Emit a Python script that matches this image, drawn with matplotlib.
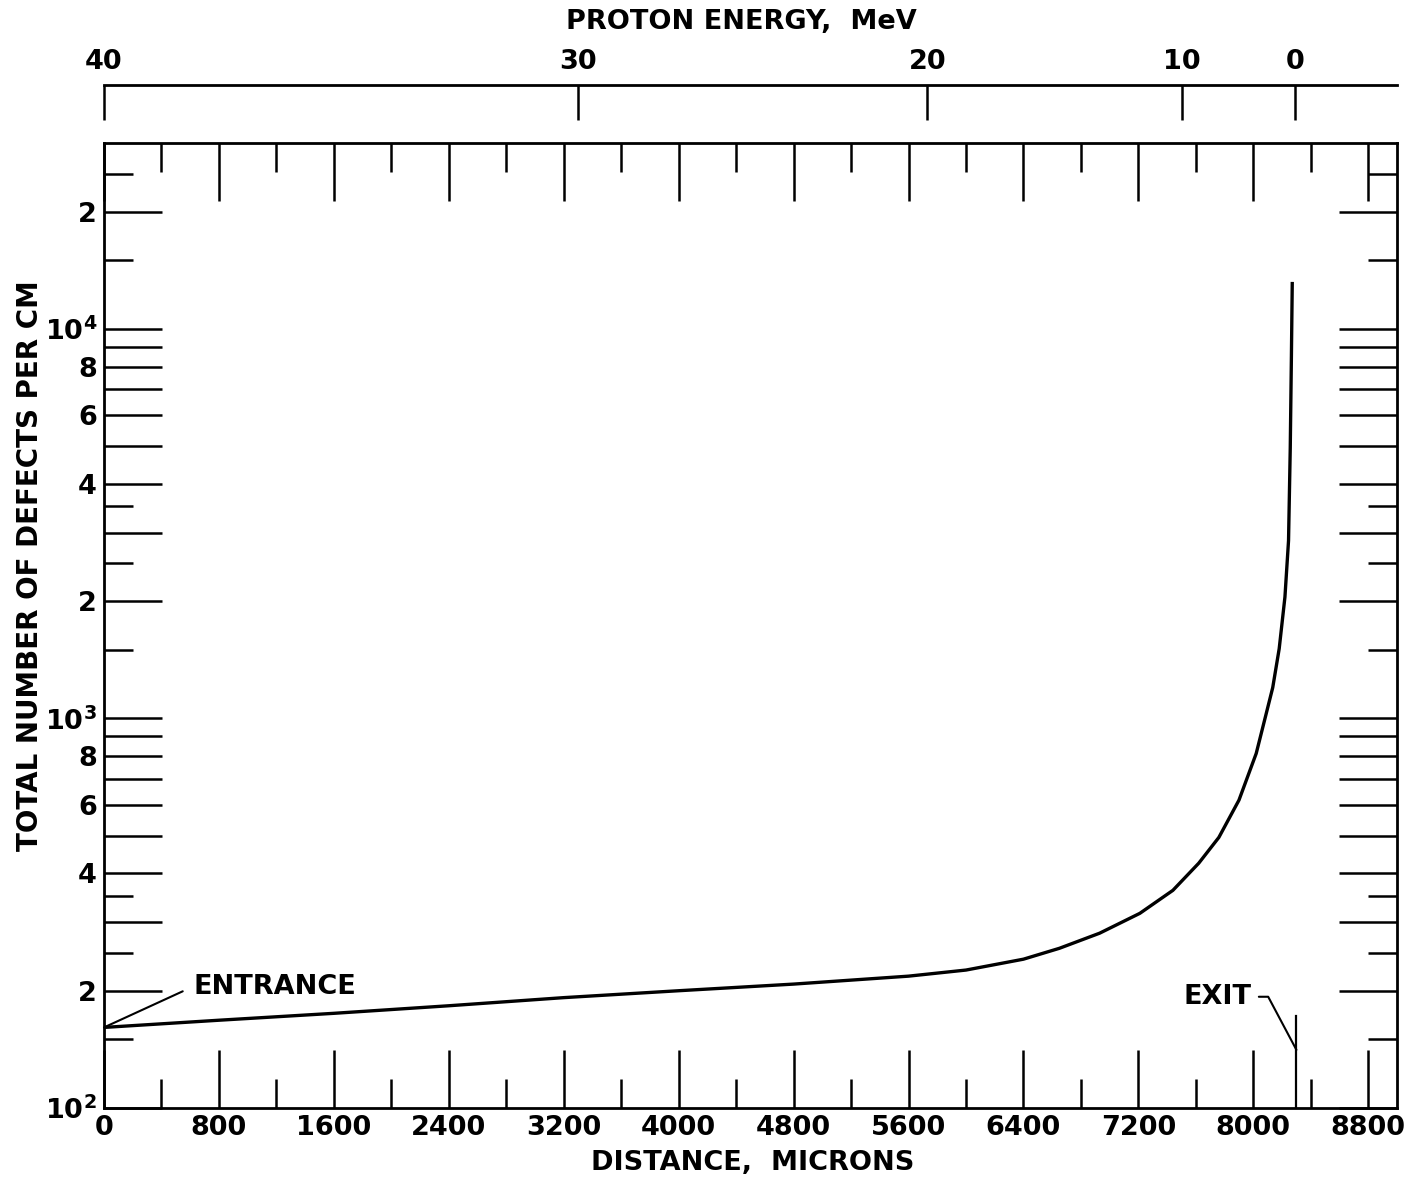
import matplotlib
matplotlib.use("Agg")
import matplotlib.pyplot as plt
from matplotlib.ticker import FixedLocator, FixedFormatter, NullFormatter

plt.rcParams['font.family'] = ['DejaVu Sans']
plt.rcParams['font.weight'] = 'bold'
plt.rcParams['mathtext.fontset'] = 'dejavusans'
plt.rcParams['mathtext.default'] = 'bf'

# ---------------- data ----------------
distance_um = [0, 800, 1600, 2400, 3200, 4000, 4800, 5600, 6000, 6400, 6650,
               6930, 7210, 7440, 7620, 7760, 7900, 8020, 8090, 8135, 8180,
               8220, 8245, 8257, 8265, 8271]
defects_per_cm = [161, 168, 175, 183, 192, 200, 208, 218, 226, 241, 257,
                  281, 316, 362, 425, 495, 617, 813, 1030, 1200, 1510,
                  2050, 2860, 4950, 8500, 13200]

exit_distance = 8300
exit_marker_top = 172

x_major_ticks = [0, 800, 1600, 2400, 3200, 4000, 4800, 5600, 6400, 7200, 8000, 8800]
x_minor_ticks = [400, 1200, 2000, 2800, 3600, 4400, 5200, 6000, 6800, 7600, 8400]

y_major_ticks = [100, 200, 300, 400, 500, 600, 700, 800, 900,
                 1000, 2000, 3000, 4000, 5000, 6000, 7000, 8000, 9000,
                 10000, 20000]
y_major_labels = [r'$10^{2}$', '2', '', '4', '', '6', '', '8', '',
                  r'$10^{3}$', '2', '', '4', '', '6', '', '8', '',
                  r'$10^{4}$', '2']
y_minor_ticks = [150, 250, 350, 1500, 2500, 3500, 15000, 25000]

energy_labels = ['40', '30', '20', '10', '0']
energy_tick_distance = [0, 3300, 5730, 7505, 8290]

x_limits = (0, 9000)
y_limits = (100, 30000)

# ---------------- figure ----------------
W, H = 1414, 1183
fig = plt.figure(figsize=(W / 100, H / 100), dpi=100)

left, right, top, bottom = 104, 1397, 143, 1108
ax = fig.add_axes([left / W, 1 - bottom / H, (right - left) / W, (bottom - top) / H])

ax.plot(distance_um, defects_per_cm, color='black', lw=2.4,
        solid_joinstyle='round', solid_capstyle='butt')
ax.plot([exit_distance, exit_distance], [y_limits[0], exit_marker_top],
        color='black', lw=1.6)

ax.set_yscale('log')
ax.set_xlim(*x_limits)
ax.set_ylim(*y_limits)

ax.xaxis.set_major_locator(FixedLocator(x_major_ticks))
ax.xaxis.set_minor_locator(FixedLocator(x_minor_ticks))
ax.xaxis.set_major_formatter(FixedFormatter([str(v) for v in x_major_ticks]))
ax.xaxis.set_minor_formatter(NullFormatter())

ax.yaxis.set_major_locator(FixedLocator(y_major_ticks))
ax.yaxis.set_major_formatter(FixedFormatter(y_major_labels))
ax.yaxis.set_minor_locator(FixedLocator(y_minor_ticks))
ax.yaxis.set_minor_formatter(NullFormatter())

for s in ax.spines.values():
    s.set_linewidth(2.0)

fs = 19.5
ax.tick_params(which='both', direction='in', top=True, right=True,
               width=1.8, color='black')
ax.tick_params(which='major', length=42, labelsize=fs, pad=5)
ax.tick_params(which='minor', length=21)
ax.tick_params(axis='y', which='major', pad=5)

fig.text(753 / W, 1 - 1163 / H, 'DISTANCE,  MICRONS', ha='center', va='center',
         fontsize=fs, fontweight='bold')
fig.text(30 / W, 1 - 566 / H, 'TOTAL NUMBER OF DEFECTS PER CM', ha='center',
         va='center', rotation=90, fontsize=20, fontweight='bold')

# annotations
ax.annotate('ENTRANCE', xy=(distance_um[0], defects_per_cm[0]),
            xytext=(620, 205), textcoords='data', ha='left', va='center',
            fontsize=fs, fontweight='bold',
            arrowprops=dict(arrowstyle='-', color='black', lw=1.5,
                            shrinkA=6, shrinkB=0, relpos=(0, 0.5)))
ax.annotate('EXIT', xy=(exit_distance, 141), xytext=(7990, 193),
            textcoords='data', ha='right', va='center',
            fontsize=fs, fontweight='bold',
            arrowprops=dict(arrowstyle='-', color='black', lw=1.5,
                            shrinkA=3, shrinkB=0, relpos=(1, 0.5),
                            connectionstyle='angle,angleA=0,angleB=118,rad=0'))

# ---------------- energy scale on top ----------------
e_line_y, e_tick_bottom = 85, 120
axe = fig.add_axes([left / W, 1 - e_tick_bottom / H, (right - left) / W,
                    (e_tick_bottom - e_line_y) / H])
axe.set_xlim(*x_limits)
axe.set_ylim(0, 1)
for k in ['left', 'right', 'bottom']:
    axe.spines[k].set_visible(False)
axe.spines['top'].set_linewidth(2.0)
axe.patch.set_alpha(0)
axe.set_yticks([])
axe.xaxis.set_major_locator(FixedLocator(energy_tick_distance))
axe.xaxis.set_major_formatter(FixedFormatter(energy_labels))
axe.tick_params(axis='x', which='major', direction='in', top=True, bottom=False,
                labeltop=True, labelbottom=False, length=25, width=1.8,
                labelsize=fs, pad=7)
fig.text(741 / W, 1 - 22 / H, 'PROTON ENERGY,  MeV', ha='center', va='center',
         fontsize=fs, fontweight='bold')

fig.savefig('out.png', dpi=100)
